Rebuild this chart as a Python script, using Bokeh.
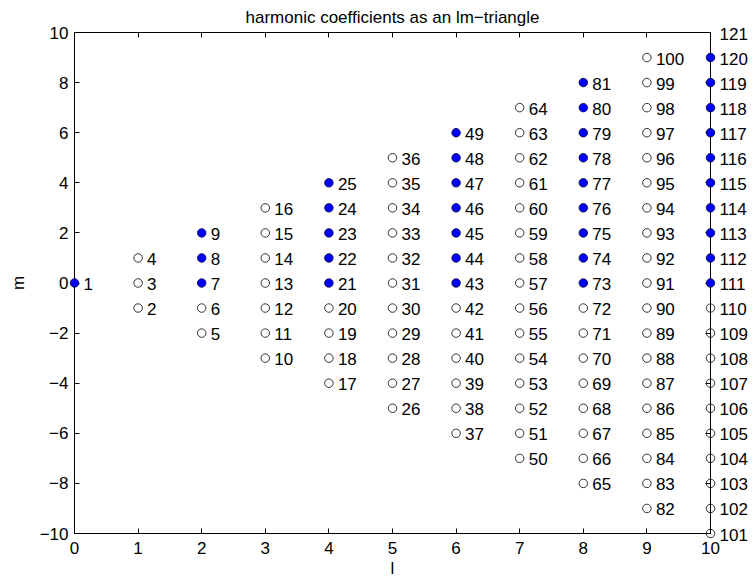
from bokeh.plotting import figure
from bokeh.models import ColumnDataSource, LinearAxis, FixedTicker, Range1d
from bokeh.core.properties import value
from bokeh.embed import file_html
from bokeh.resources import INLINE

# degree l, order m and running coefficient number of every (l, m) pair
degree_l = [
    0,
    1, 1, 1,
    2, 2, 2, 2, 2,
    3, 3, 3, 3, 3, 3, 3,
    4, 4, 4, 4, 4, 4, 4, 4, 4,
    5, 5, 5, 5, 5, 5, 5, 5, 5, 5, 5,
    6, 6, 6, 6, 6, 6, 6, 6, 6, 6, 6, 6, 6,
    7, 7, 7, 7, 7, 7, 7, 7, 7, 7, 7, 7, 7, 7, 7,
    8, 8, 8, 8, 8, 8, 8, 8, 8, 8, 8, 8, 8, 8, 8, 8, 8,
    9, 9, 9, 9, 9, 9, 9, 9, 9, 9, 9, 9, 9, 9, 9, 9, 9, 9, 9,
    10, 10, 10, 10, 10, 10, 10, 10, 10, 10, 10, 10, 10, 10, 10, 10, 10, 10, 10, 10, 10,
]
order_m = [
    0,
    -1, 0, 1,
    -2, -1, 0, 1, 2,
    -3, -2, -1, 0, 1, 2, 3,
    -4, -3, -2, -1, 0, 1, 2, 3, 4,
    -5, -4, -3, -2, -1, 0, 1, 2, 3, 4, 5,
    -6, -5, -4, -3, -2, -1, 0, 1, 2, 3, 4, 5, 6,
    -7, -6, -5, -4, -3, -2, -1, 0, 1, 2, 3, 4, 5, 6, 7,
    -8, -7, -6, -5, -4, -3, -2, -1, 0, 1, 2, 3, 4, 5, 6, 7, 8,
    -9, -8, -7, -6, -5, -4, -3, -2, -1, 0, 1, 2, 3, 4, 5, 6, 7, 8, 9,
    -10, -9, -8, -7, -6, -5, -4, -3, -2, -1, 0, 1, 2, 3, 4, 5, 6, 7, 8, 9, 10,
]
coef_index = [
    1,
    2, 3, 4,
    5, 6, 7, 8, 9,
    10, 11, 12, 13, 14, 15, 16,
    17, 18, 19, 20, 21, 22, 23, 24, 25,
    26, 27, 28, 29, 30, 31, 32, 33, 34, 35, 36,
    37, 38, 39, 40, 41, 42, 43, 44, 45, 46, 47, 48, 49,
    50, 51, 52, 53, 54, 55, 56, 57, 58, 59, 60, 61, 62, 63, 64,
    65, 66, 67, 68, 69, 70, 71, 72, 73, 74, 75, 76, 77, 78, 79, 80, 81,
    82, 83, 84, 85, 86, 87, 88, 89, 90, 91, 92, 93, 94, 95, 96, 97, 98, 99, 100,
    101, 102, 103, 104, 105, 106, 107, 108, 109, 110, 111, 112, 113, 114, 115,
    116, 117, 118, 119, 120, 121,
]
# 1 = selected coefficient (even degree, non-negative order)
selected = [
    1,
    0, 0, 0,
    0, 0, 1, 1, 1,
    0, 0, 0, 0, 0, 0, 0,
    0, 0, 0, 0, 1, 1, 1, 1, 1,
    0, 0, 0, 0, 0, 0, 0, 0, 0, 0, 0,
    0, 0, 0, 0, 0, 0, 1, 1, 1, 1, 1, 1, 1,
    0, 0, 0, 0, 0, 0, 0, 0, 0, 0, 0, 0, 0, 0, 0,
    0, 0, 0, 0, 0, 0, 0, 0, 1, 1, 1, 1, 1, 1, 1, 1, 1,
    0, 0, 0, 0, 0, 0, 0, 0, 0, 0, 0, 0, 0, 0, 0, 0, 0, 0, 0,
    0, 0, 0, 0, 0, 0, 0, 0, 0, 0, 1, 1, 1, 1, 1, 1, 1, 1, 1, 1, 1,
]
# the corner marker is hidden under the plot box corner
hidden_markers = [121]

x_ticks = [0, 1, 2, 3, 4, 5, 6, 7, 8, 9, 10]
y_ticks = [-10, -8, -6, -4, -2, 0, 2, 4, 6, 8, 10]

FONT = "Liberation Sans"
FS = "17px"


def pick(want_selected):
    ls, ms = [], []
    for l, m, i, s in zip(degree_l, order_m, coef_index, selected):
        if s == want_selected and i not in hidden_markers:
            ls.append(l)
            ms.append(m)
    return ColumnDataSource(dict(l=ls, m=ms))


open_src = pick(0)
fill_src = pick(1)
lab_src = ColumnDataSource(dict(l=degree_l, m=order_m,
                                t=[str(i) for i in coef_index]))

p = figure(width=752, height=583, output_backend="svg", toolbar_location=None,
           x_range=Range1d(0, 10), y_range=Range1d(-10, 10),
           min_border_left=74, min_border_right=42, min_border_top=32,
           min_border_bottom=50,
           title="harmonic coefficients as an lm\u2212triangle")
p.title.align = "center"
p.title.text_font = FONT
p.title.text_font_size = FS
p.title.text_font_style = "normal"
p.title.text_color = "black"
p.title.standoff = 11
p.grid.visible = False
p.outline_line_color = "black"
p.background_fill_color = "white"
p.border_fill_color = "white"

# markers and numbers sit above the frame clip so the edge columns stay whole
r1 = p.scatter("l", "m", source=open_src, size=8.5, marker="circle",
               fill_color=None, line_color="black", line_width=0.8)
r2 = p.scatter("l", "m", source=fill_src, size=8.5, marker="circle",
               fill_color="#0000ff", line_color="#000033", line_width=0.8)
r3 = p.text("l", "m", text="t", source=lab_src, x_offset=9, y_offset=1,
            text_baseline="middle", text_align="left",
            text_font=value(FONT), text_font_size=FS, text_color="black")
for r in (r1, r2, r3):
    r.level = "overlay"


def style_axis(ax, ticks, show_labels):
    ax.ticker = FixedTicker(ticks=ticks)
    ax.major_tick_in = 5
    ax.major_tick_out = 0
    ax.minor_tick_line_color = None
    ax.axis_line_color = "black"
    ax.major_tick_line_color = "black"
    ax.major_label_text_font = FONT
    ax.major_label_text_font_size = FS
    ax.major_label_text_color = "black"
    ax.axis_label_text_font = FONT
    ax.axis_label_text_font_size = FS
    ax.axis_label_text_font_style = "normal"
    ax.axis_label_text_color = "black"
    if show_labels:
        ax.major_label_overrides = {t: str(t).replace("-", "\u2212") for t in ticks}
    else:
        ax.major_label_overrides = {t: "" for t in ticks}
        ax.major_label_standoff = 0


style_axis(p.xaxis[0], x_ticks, True)
style_axis(p.yaxis[0], y_ticks, True)
p.xaxis[0].axis_label = "l"
p.yaxis[0].axis_label = "m"
p.xaxis[0].major_label_standoff = 8
p.xaxis[0].axis_label_standoff = 2
p.yaxis[0].major_label_standoff = 6
p.yaxis[0].axis_label_standoff = 9

top = LinearAxis()
style_axis(top, x_ticks, False)
p.add_layout(top, "above")
right = LinearAxis()
style_axis(right, y_ticks, False)
p.add_layout(right, "right")

open("out.html", "w").write(file_html(p, INLINE))
